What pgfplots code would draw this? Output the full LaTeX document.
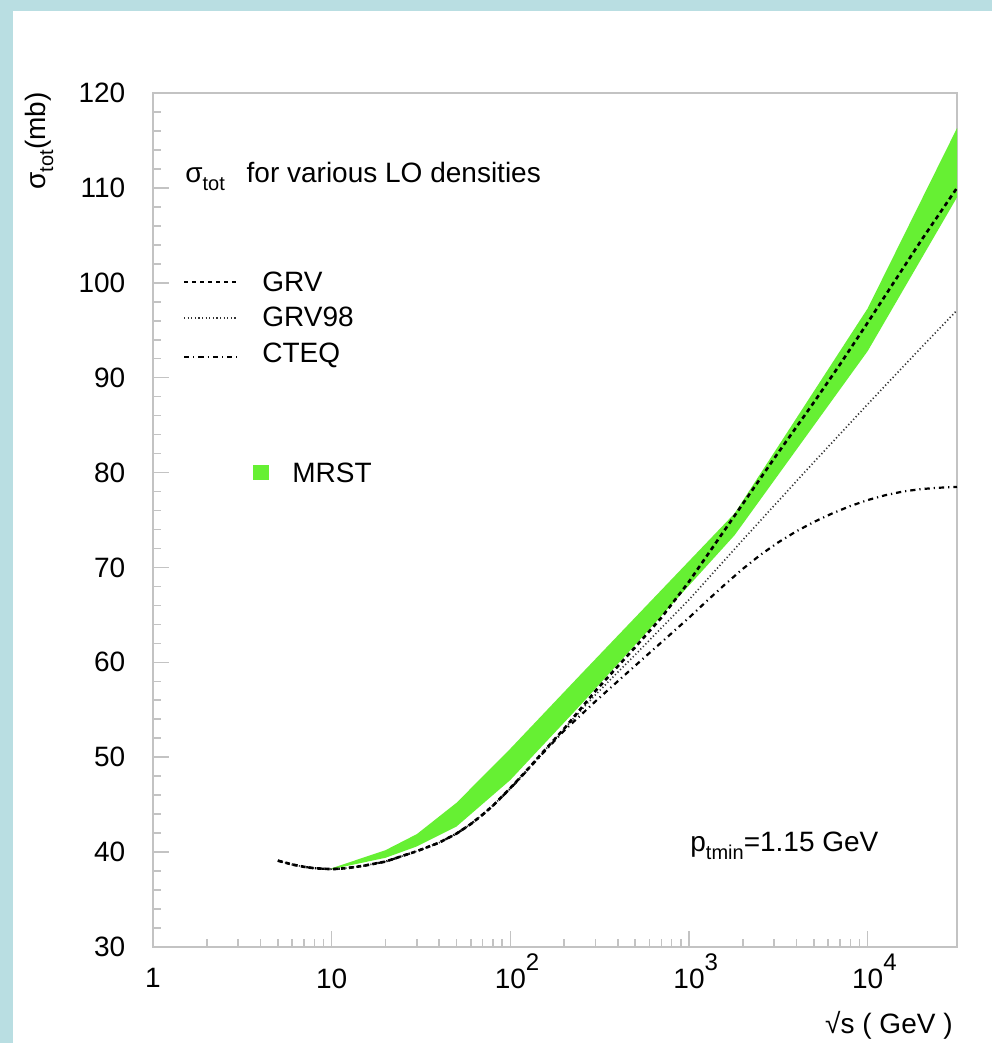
\documentclass[border=0pt]{standalone}
\usepackage{fontspec}
\setmainfont{Liberation Sans}
\usepackage{pgfplots}
\pgfplotsset{compat=1.18}
\definecolor{bgblue}{RGB}{185,222,226}
\definecolor{mrst}{RGB}{102,240,51}
\definecolor{axgray}{RGB}{195,195,195}
\newcommand{\mysub}[1]{\raisebox{-4pt}{\fontsize{10}{10}\selectfont #1}}
\newcommand{\mysup}[1]{\rlap{\raisebox{9pt}[0pt][0pt]{\fontsize{12}{12}\selectfont #1}}}
\begin{document}
\fontsize{14}{16}\selectfont
\begin{tikzpicture}[x=1pt,y=1pt]
\useasboundingbox (0,0) rectangle (496,521.5);
\fill[bgblue] (0,0) rectangle (496,521.5);
\fill[white] (6.3,0) rectangle (496,516);
\begin{axis}[
  at={(76.5pt,48pt)}, anchor=south west,
  scale only axis, width=402pt, height=427pt,
  xmode=log, xmin=1, xmax=31623, ymin=30, ymax=120,
  xtick={1,10,100,1000,10000},
  xticklabels={1,10,10\mysup{2},10\mysup{3},10\mysup{4}},
  ytick={30,40,...,120},
  minor y tick num=4,
  xtick pos=bottom, ytick pos=left,
  tick align=inside,
  major tick length=8pt, minor tick length=4pt,
  tick style={axgray, line width=0.8pt},
  axis line style={axgray, line width=1pt},
  /pgf/number format/assume math mode=true,
  xticklabel style={yshift=-6pt, font=\fontsize{14}{16}\selectfont},
  yticklabel style={xshift=-9pt, font=\fontsize{14}{16}\selectfont},
  clip=true,
]
% MRST band (upper edge, then lower edge reversed)
\addplot[fill=mrst, draw=none] coordinates {
 (10,38.3) (20,40.2) (30,41.9) (50,45.2) (100,50.9) (250,58.8) (1800,75.7) (10000,97.3) (31623,116.3)
 (31623,109.0) (10000,92.8) (1800,73.4) (250,55.6) (100,47.6) (50,42.7) (30,40.6) (20,39.4) (10,38.2)
} -- cycle;
% CTEQ
\addplot[black, line width=1.1pt, dash pattern=on 2.6pt off 2pt on 0.6pt off 2pt] coordinates {
 (5,39.1) (6,38.7) (7,38.45) (8,38.3) (10,38.2) (12,38.3) (15,38.55) (20,39.0) (30,40.1) (40,41.0) (50,41.95) (60,42.95) (70,43.95) (80,44.9) (100,46.7) (120,48.3) (150,50.3) (200,52.8) (300,55.9) (445,58.8) (700,62.1) (1000,64.7) (1259,66.47) (1585,68.19) (1995,69.83) (2512,71.33) (3162,72.65) (3981,73.80) (5012,74.80) (6310,75.68) (7943,76.45) (10000,77.10) (12589,77.62) (15849,78.01) (19953,78.26) (25119,78.40) (31623,78.49)
};
% GRV98
\addplot[black!80, line width=0.8pt, dash pattern=on 0.6pt off 1.2pt] coordinates {
 (5,39.1) (6,38.7) (7,38.45) (8,38.3) (10,38.2) (12,38.3) (15,38.55) (20,39.0) (30,40.1) (40,41.0) (50,41.95) (60,42.95) (70,43.95) (80,44.9) (100,46.75) (120,48.35) (150,50.4) (200,53.0) (300,56.6) (500,60.8) (1000,66.6) (2000,72.9) (5000,81.1) (10000,87.2) (20000,93.2) (31623,97.1)
};
% GRV
\addplot[black, line width=1.3pt, dash pattern=on 2.2pt off 1.8pt] coordinates {
 (5,39.1) (6,38.7) (7,38.45) (8,38.3) (10,38.2) (12,38.3) (15,38.55) (20,39.0) (30,40.1) (40,41.0) (50,41.95) (60,42.95) (70,43.95) (80,44.9) (100,46.75) (120,48.35) (150,50.4) (200,53.0) (300,57.0) (500,61.6) (700,64.7) (1000,68.5) (1500,73.3) (2000,76.7) (3000,81.5) (5000,87.4) (7000,91.4) (10000,95.8) (15000,100.9) (20000,104.5) (31623,110.0)
};
\end{axis}
% annotations
\node[anchor=base west, inner sep=0] at (92.5,430) {σ\mysub{tot}\hspace{7pt} for various LO densities};
\draw[black, line width=1.3pt, dash pattern=on 2.2pt off 1.8pt] (92,380.5) -- (118.5,380.5);
\node[anchor=base west, inner sep=0] at (131,375.5) {GRV};
\draw[black!80, line width=0.8pt, dash pattern=on 0.6pt off 1.2pt] (92,362.5) -- (118.5,362.5);
\node[anchor=base west, inner sep=0] at (131,358) {GRV98};
\draw[black, line width=1.1pt, dash pattern=on 2.6pt off 2pt on 0.6pt off 2pt] (92,343) -- (118.5,343);
\node[anchor=base west, inner sep=0] at (131,340) {CTEQ};
\fill[mrst] (126.5,281.5) rectangle (134.5,289);
\node[anchor=base west, inner sep=0] at (146,280) {MRST};
\node[anchor=base west, inner sep=0] at (345,95.5) {p\mysub{tmin}=1.15 GeV};
\node[rotate=90, anchor=center, inner sep=0] at (19.5,451) {σ\mysub{tot}(mb)};
\node[anchor=base east, inner sep=0] at (476.5,5) {√s ( GeV )};
\end{tikzpicture}
\end{document}
